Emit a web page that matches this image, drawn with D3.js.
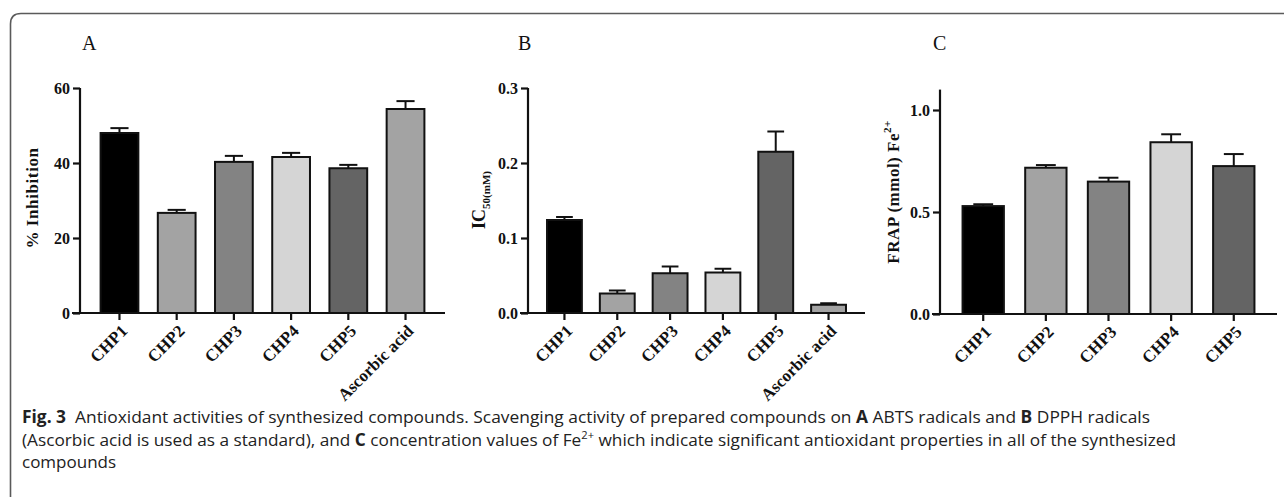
<!DOCTYPE html>
<html>
<head>
<meta charset="utf-8">
<script src="https://cdn.jsdelivr.net/npm/d3@7"></script>
<style>
  body { margin: 0; background: #fff; }
  svg { display: block; }
</style>
</head>
<body>
<svg id="chart" width="1284" height="497"></svg>
<script>
const W = 1284, H = 497;
const svg = d3.select("#chart");

// data
const catsAB = ["CHP1", "CHP2", "CHP3", "CHP4", "CHP5", "Ascorbic acid"];
const catsC = ["CHP1", "CHP2", "CHP3", "CHP4", "CHP5"];
const abtsMean = [48.0, 26.7, 40.3, 41.6, 38.6, 54.4];
const abtsErr = [1.3, 0.8, 1.6, 1.1, 0.9, 2.1];
const dpphMean = [0.124, 0.026, 0.053, 0.054, 0.215, 0.011];
const dpphErr = [0.004, 0.004, 0.009, 0.005, 0.027, 0.002];
const frapMean = [0.529, 0.717, 0.649, 0.842, 0.725];
const frapErr = [0.009, 0.013, 0.019, 0.039, 0.059];
const ticksA = [0, 20, 40, 60];
const ticksB = [0, 0.1, 0.2, 0.3];
const ticksC = [0, 0.5, 1.0];
const barFill = {
  "CHP1": "#000000", "CHP2": "#a3a3a3", "CHP3": "#838383",
  "CHP4": "#d5d5d5", "CHP5": "#646464", "Ascorbic acid": "#a3a3a3"
};

const serif = "'Liberation Serif', 'Times New Roman', serif";
const sans = "'Open Sans', 'Noto Sans', sans-serif";

// panel frame (rounded top-left corner, open at right and bottom)
svg.append("path")
  .attr("d", "M10.5,497 L10.5,24 Q10.5,13.5 21,13.5 L1284,13.5")
  .attr("fill", "none")
  .attr("stroke", "#5a5a5a")
  .attr("stroke-width", 1.6);

function drawPanel(opt) {
  const g = svg.append("g");
  const x = d3.scaleBand()
    .domain(opt.cats)
    .range([opt.x0, opt.x1])
    .paddingInner(0.34)
    .paddingOuter(0.36);
  const y = d3.scaleLinear().domain(opt.domain).range([opt.y0, opt.yTop]);

  // bars
  opt.cats.forEach((c, i) => {
    const cx = x(c) + x.bandwidth() / 2;
    const top = y(opt.mean[i]);
    const errTop = y(opt.mean[i] + opt.err[i]);
    const cap = x.bandwidth() * 0.24;
    g.append("line")
      .attr("x1", cx).attr("x2", cx)
      .attr("y1", top).attr("y2", errTop)
      .attr("stroke", "#111").attr("stroke-width", 2);
    g.append("line")
      .attr("x1", cx - cap).attr("x2", cx + cap)
      .attr("y1", errTop).attr("y2", errTop)
      .attr("stroke", "#111").attr("stroke-width", 2);
    g.append("rect")
      .attr("x", x(c)).attr("width", x.bandwidth())
      .attr("y", top).attr("height", opt.y0 - top)
      .attr("fill", barFill[c])
      .attr("stroke", "#111").attr("stroke-width", 2);
  });

  // y axis
  const yAxis = d3.axisLeft(y).tickValues(opt.ticks).tickFormat(opt.fmt)
    .tickSize(7).tickPadding(3);
  const ya = g.append("g").attr("transform", `translate(${opt.x0},0)`).call(yAxis);
  ya.select(".domain").attr("d", `M0,${opt.yTop}V${opt.y0}`);

  // x axis
  const xAxis = d3.axisBottom(x).tickSize(7).tickFormat("");
  const xa = g.append("g").attr("transform", `translate(0,${opt.y0})`).call(xAxis);
  xa.select(".domain").attr("d", `M${opt.x0 - 8},0H${opt.x1}`);

  [ya, xa].forEach(a => {
    a.selectAll(".domain, line").attr("stroke", "#111").attr("stroke-width", 2.2);
    a.selectAll("text")
      .attr("font-family", serif).attr("font-weight", "bold")
      .attr("font-size", 16).attr("fill", "#111");
  });

  // rotated category labels
  opt.cats.forEach(c => {
    const cx = x(c) + x.bandwidth() / 2;
    g.append("text")
      .attr("transform", `translate(${cx + 9},${opt.y0 + 19}) rotate(-45)`)
      .attr("text-anchor", "end")
      .attr("font-family", serif).attr("font-weight", "bold")
      .attr("font-size", 17).attr("fill", "#111")
      .text(c);
  });

  // panel letter
  g.append("text")
    .attr("x", opt.letterX).attr("y", 50)
    .attr("font-family", serif).attr("font-size", 20).attr("fill", "#111")
    .text(opt.letter);

  // y title
  const t = g.append("text")
    .attr("transform", `translate(${opt.titleX},${opt.titleY}) rotate(-90)`)
    .attr("text-anchor", "middle")
    .attr("font-family", serif).attr("font-weight", "bold")
    .attr("font-size", 17).attr("fill", "#111");
  opt.title(t);
}

drawPanel({
  cats: catsAB, mean: abtsMean, err: abtsErr, ticks: ticksA,
  fmt: d3.format("d"), domain: [0, 60],
  x0: 80, x1: 445, y0: 313, yTop: 88,
  letter: "A", letterX: 82, titleX: 38, titleY: 198,
  title: t => t.attr("letter-spacing", 0.6).text("% Inhibition")
});

drawPanel({
  cats: catsAB, mean: dpphMean, err: dpphErr, ticks: ticksB,
  fmt: d3.format(".1f"), domain: [0, 0.3],
  x0: 528, x1: 865, y0: 313, yTop: 88,
  letter: "B", letterX: 518, titleX: 485, titleY: 200,
  title: t => {
    t.append("tspan").attr("font-size", 18).text("IC");
    t.append("tspan").attr("font-size", 11).attr("dy", 5).text("50(mM)");
  }
});

drawPanel({
  cats: catsC, mean: frapMean, err: frapErr, ticks: ticksC,
  fmt: d3.format(".1f"), domain: [0, 1.1],
  x0: 940, x1: 1277, y0: 314, yTop: 89.6,
  letter: "C", letterX: 933, titleX: 899, titleY: 192,
  title: t => {
    t.attr("letter-spacing", 0.5);
    t.append("tspan").text("FRAP (mmol) Fe");
    t.append("tspan").attr("font-size", 11).attr("dy", -8).text("2+");
  }
});

// caption
const captionLines = [
  [["Fig. 3", true], ["  Antioxidant activities of synthesized compounds. Scavenging activity of prepared compounds on ", false],
   ["A", true], [" ABTS radicals and ", false], ["B", true], [" DPPH radicals", false]],
  [["(Ascorbic acid is used as a standard), and ", false], ["C", true], [" concentration values of Fe", false],
   ["2+", false, "sup"], [" which indicate significant antioxidant properties in all of the synthesized", false]],
  [["compounds", false]]
];
const captionY = [423, 446, 468];
const captionWidth = [1128, 1154, null];

captionLines.forEach((segs, i) => {
  const t = svg.append("text")
    .attr("x", 22).attr("y", captionY[i])
    .attr("font-family", sans).attr("font-size", 17).attr("fill", "#222")
    .attr("xml:space", "preserve");
  let prevSup = false;
  segs.forEach(s => {
    const sp = t.append("tspan").text(s[0]);
    if (s[1]) sp.attr("font-weight", "bold");
    if (s[2] === "sup") {
      sp.attr("font-size", 11).attr("dy", -7);
      prevSup = true;
    } else if (prevSup) {
      sp.attr("dy", 7);
      prevSup = false;
    }
  });
  if (captionWidth[i]) {
    t.attr("textLength", captionWidth[i]).attr("lengthAdjust", "spacingAndGlyphs");
  }
});
</script>
</body>
</html>
